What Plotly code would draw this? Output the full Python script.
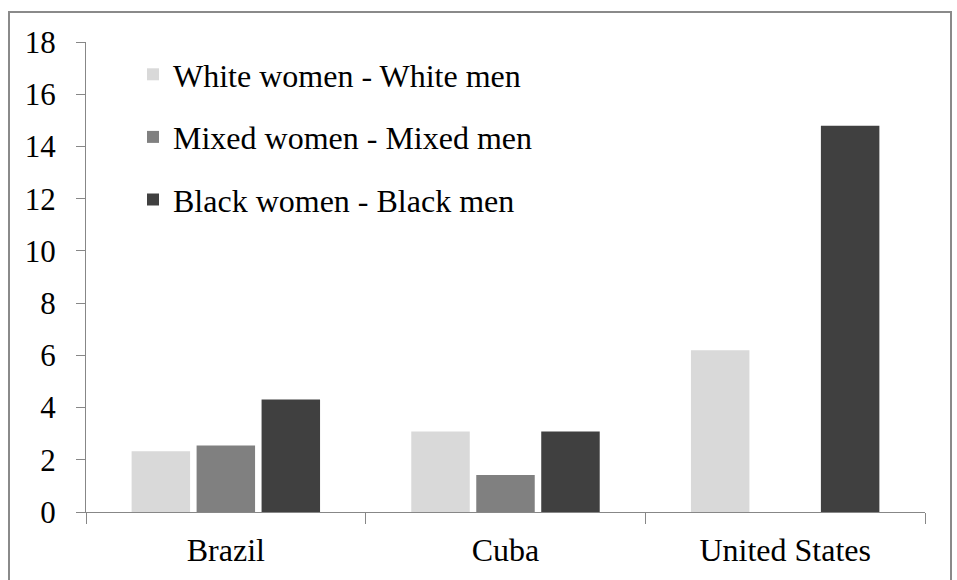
import plotly.graph_objects as go

# Gap values by country and group
countries = ["Brazil", "Cuba", "United States"]
series_names = ["White women - White men", "Mixed women - Mixed men", "Black women - Black men"]
white_gap = [2.33, 3.08, 6.19]
mixed_gap = [2.55, 1.42, None]
black_gap = [4.31, 3.08, 14.79]
y_ticks = [0, 2, 4, 6, 8, 10, 12, 14, 16, 18]

series_values = [white_gap, mixed_gap, black_gap]
colors = ["#d9d9d9", "#808080", "#404040"]

FONT = "Liberation Serif"
AXIS_GRAY = "#878787"

fig = go.Figure()
for i, (name, vals, col) in enumerate(zip(series_names, series_values, colors)):
    fig.add_trace(go.Bar(
        x=countries, y=vals, name=name,
        marker=dict(color=col, line=dict(width=0)),
        legendgroup=f"g{i}",
    ))

W, H = 957, 580
L, R, T, B = 86, 32, 42, 68
pw, ph = W - L - R, H - T - B

def px_x(p):
    return (p - L) / pw

def px_y(p):
    return (H - B - p) / ph

fig.update_layout(
    width=W, height=H,
    margin=dict(l=L, r=R, t=T, b=B, pad=0),
    paper_bgcolor="white", plot_bgcolor="white",
    font=dict(family=FONT, size=31, color="black"),
    barmode="group", bargap=0.303, bargroupgap=0.1,
    showlegend=True,
    legend=dict(
        x=px_x(133), y=px_y(47), xanchor="left", yanchor="top",
        bgcolor="rgba(0,0,0,0)", borderwidth=0,
        font=dict(family=FONT, size=32, color="black"),
        tracegroupgap=18, itemwidth=30,
    ),
    xaxis=dict(
        type="category", showline=True, linecolor=AXIS_GRAY, linewidth=1,
        ticks="outside", tickson="boundaries", ticklen=11, tickcolor=AXIS_GRAY,
        showgrid=False, zeroline=False, ticklabelstandoff=10,
        tickfont=dict(family=FONT, size=32, color="black"),
    ),
    yaxis=dict(
        range=[0, 18], tickvals=y_ticks, showline=True, linecolor=AXIS_GRAY,
        linewidth=1, ticks="outside", ticklen=9, tickcolor=AXIS_GRAY,
        showgrid=False, zeroline=False, ticklabelstandoff=14,
        tickfont=dict(family=FONT, size=31, color="black"),
    ),
    shapes=[dict(
        type="rect", xref="paper", yref="paper",
        x0=px_x(9), x1=px_x(951), y0=px_y(592), y1=px_y(12),
        line=dict(color="#8a8a8a", width=2), fillcolor="rgba(0,0,0,0)",
        layer="below",
    )],
)

fig.write_html("out.html")
